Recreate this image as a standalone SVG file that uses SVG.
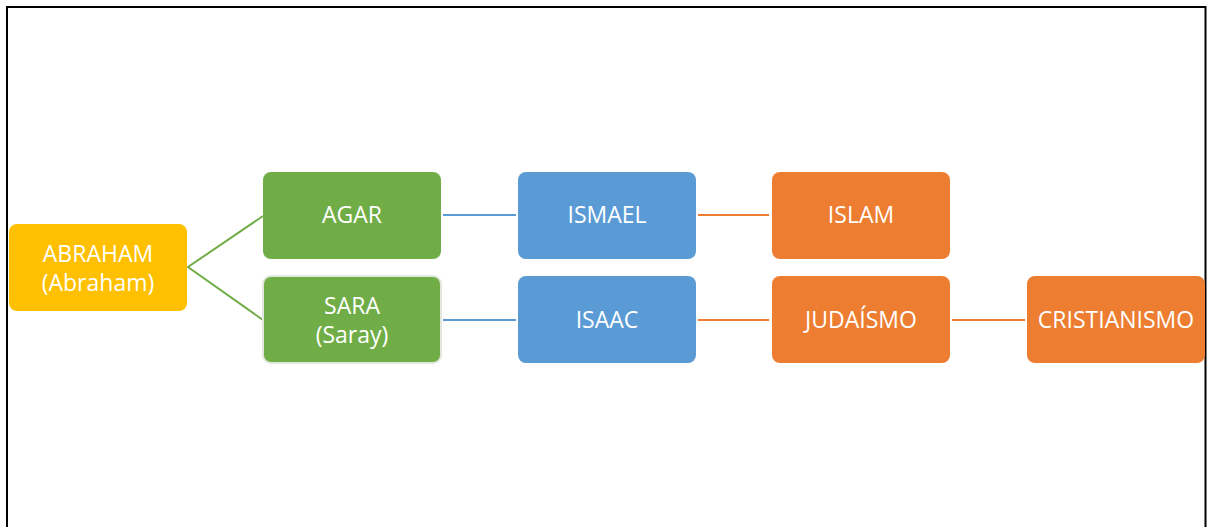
<svg xmlns="http://www.w3.org/2000/svg" width="1207" height="527" viewBox="0 0 1207 527">
<style>
.t{font-family:"Open Sans","Liberation Sans",sans-serif;font-size:23px;fill:#fff;text-anchor:middle}
.c{fill:none;stroke-width:2}
</style>
<rect x="0" y="0" width="1207" height="527" fill="#fff"/>
<path d="M7,527 V7 H1205.5 V527" fill="none" stroke="#000" stroke-width="2"/>
<g id="connectors">
<polyline class="c" stroke="#70AD47" points="263,216 188,267 263,320"/>
<line class="c" stroke="#5B9BD5" x1="443" y1="215" x2="516" y2="215"/>
<line class="c" stroke="#5B9BD5" x1="443" y1="320" x2="516" y2="320"/>
<line class="c" stroke="#ED7D31" x1="698" y1="215" x2="769" y2="215"/>
<line class="c" stroke="#ED7D31" x1="698" y1="320" x2="769" y2="320"/>
<line class="c" stroke="#ED7D31" x1="952" y1="320" x2="1025" y2="320"/>
</g>
<g id="abraham"><rect x="9" y="224" width="178" height="87" rx="8" fill="#FFC000"/><text class="t" x="98" y="262">ABRAHAM</text><text class="t" x="98" y="291">(Abraham)</text></g>
<g id="agar"><rect x="263" y="172" width="178" height="87" rx="8" fill="#70AD47"/><text class="t" x="352" y="223">AGAR</text></g>
<g id="sara"><rect x="263" y="276" width="178" height="87" rx="8" fill="#70AD47" stroke="#E2E8DE" stroke-width="2"/><text class="t" x="352" y="314">SARA</text><text class="t" x="352" y="343">(Saray)</text></g>
<g id="ismael"><rect x="518" y="172" width="178" height="87" rx="8" fill="#5B9BD5"/><text class="t" x="607" y="223">ISMAEL</text></g>
<g id="isaac"><rect x="518" y="276" width="178" height="87" rx="8" fill="#5B9BD5"/><text class="t" x="607" y="328">ISAAC</text></g>
<g id="islam"><rect x="772" y="172" width="178" height="87" rx="8" fill="#ED7D31"/><text class="t" x="861" y="223">ISLAM</text></g>
<g id="judaismo"><rect x="772" y="276" width="178" height="87" rx="8" fill="#ED7D31"/><text class="t" x="861" y="328">JUDAÍSMO</text></g>
<g id="cristianismo"><rect x="1027" y="276" width="178" height="87" rx="8" fill="#ED7D31"/><text class="t" x="1116" y="328">CRISTIANISMO</text></g>
</svg>
